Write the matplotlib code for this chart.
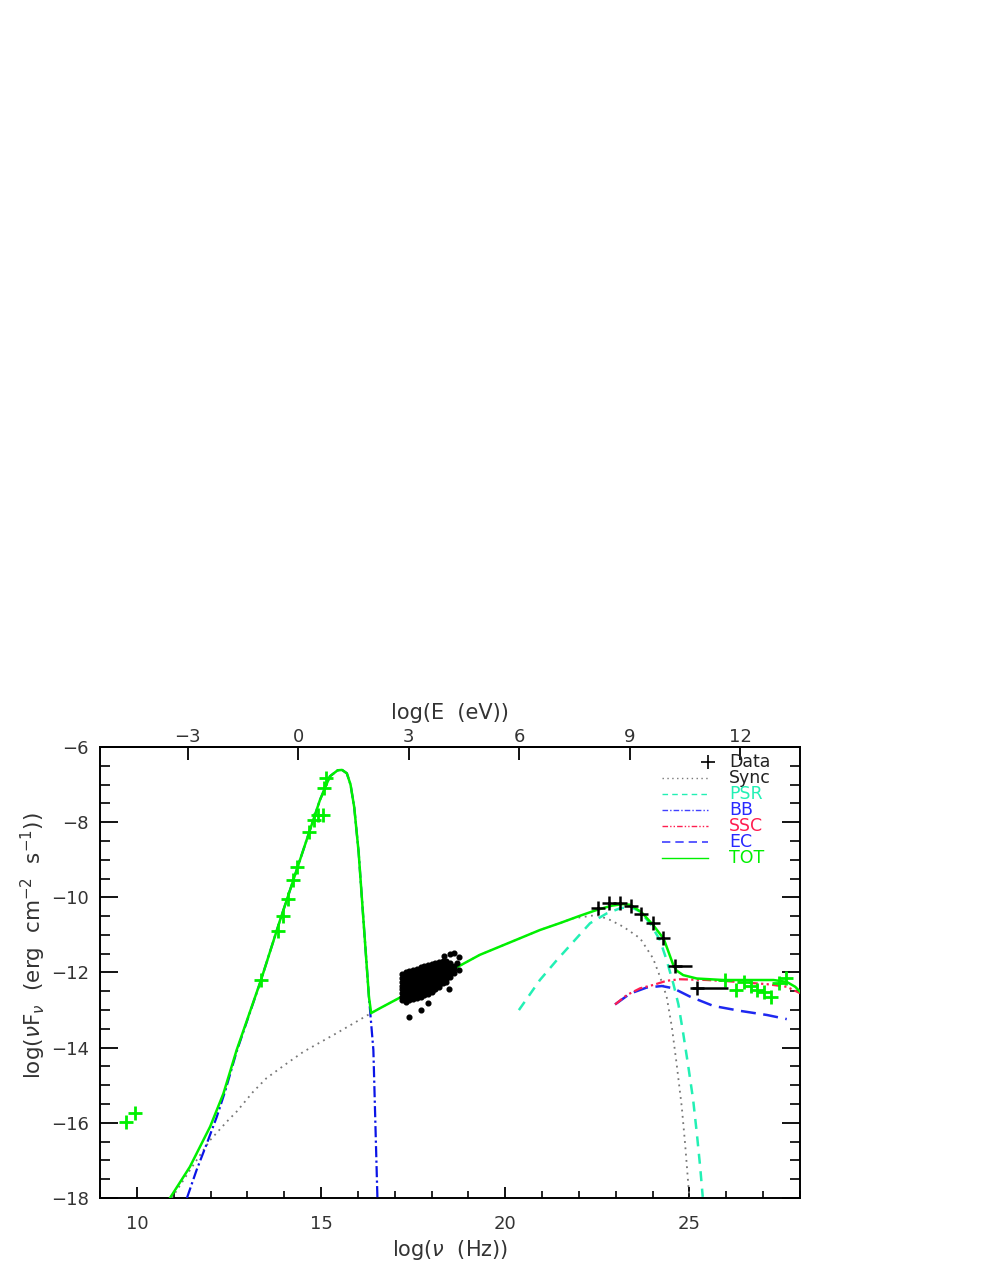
import matplotlib
matplotlib.use("Agg")
import matplotlib.pyplot as plt
from matplotlib.lines import Line2D
import numpy as np

# ---------------- data ----------------
# optical / IR / radio points (green crosses)
opt_x = [9.71, 9.95, 13.37, 13.82, 13.97, 14.10, 14.24, 14.35, 14.67, 14.80, 14.93, 15.05, 15.08, 15.13]
opt_y = [-15.98, -15.74, -12.20, -10.90, -10.50, -10.05, -9.55, -9.20, -8.25, -7.95, -7.80, -7.80, -7.10, -6.82]

# gamma-ray points (black crosses)
gam_x = [22.51, 22.81, 23.12, 23.41, 23.69, 24.00, 24.29, 24.62, 25.20]
gam_y = [-10.29, -10.16, -10.16, -10.23, -10.45, -10.69, -11.09, -11.83, -12.41]
gam_xlo = [0.0, 0.0, 0.0, 0.0, 0.0, 0.0, 0.0, 0.10, 0.14]
gam_xhi = [0.0, 0.0, 0.0, 0.0, 0.0, 0.0, 0.0, 0.44, 0.85]

# VHE points (green crosses)
vhe_x = [25.97, 26.26, 26.48, 26.66, 26.84, 27.02, 27.20, 27.44, 27.62]
vhe_y = [-12.20, -12.47, -12.25, -12.36, -12.47, -12.51, -12.66, -12.29, -12.15]

# X-ray cloud (black dots), one list of y values per x column
xray_cols = [17.20, 17.30, 17.40, 17.50, 17.60, 17.70, 17.80, 17.90, 18.00, 18.10, 18.20, 18.30, 18.40, 18.50, 18.60]
xray_vals = [
    [-12.05, -12.15, -12.25, -12.35, -12.45, -12.55, -12.65, -12.72],
    [-12.00, -12.09, -12.19, -12.29, -12.39, -12.49, -12.59, -12.69, -12.78],
    [-11.96, -12.05, -12.15, -12.25, -12.35, -12.45, -12.55, -12.65, -12.74],
    [-11.93, -12.02, -12.12, -12.22, -12.32, -12.42, -12.52, -12.62, -12.70],
    [-11.90, -12.00, -12.10, -12.20, -12.30, -12.40, -12.50, -12.60, -12.67],
    [-11.86, -11.97, -12.07, -12.17, -12.27, -12.37, -12.47, -12.57, -12.64],
    [-11.83, -11.94, -12.04, -12.14, -12.24, -12.34, -12.44, -12.54, -12.61],
    [-11.80, -11.91, -12.01, -12.11, -12.21, -12.31, -12.41, -12.51, -12.57],
    [-11.77, -11.88, -11.98, -12.08, -12.18, -12.28, -12.38, -12.48, -12.53],
    [-11.74, -11.85, -11.95, -12.05, -12.15, -12.25, -12.35, -12.44],
    [-11.72, -11.82, -11.92, -12.02, -12.12, -12.22, -12.32, -12.39],
    [-11.70, -11.80, -11.90, -12.00, -12.10, -12.20, -12.29],
    [-11.69, -11.78, -11.88, -11.98, -12.08, -12.18, -12.24],
    [-11.75, -11.84, -11.94, -12.04, -12.13],
    [-11.82, -11.92, -12.02],
]
xray_out_x = [18.50, 18.60, 18.75, 18.75, 18.48, 17.90, 17.70, 17.40, 18.70, 18.35]
xray_out_y = [-11.52, -11.47, -11.60, -11.93, -12.45, -12.82, -13.00, -13.18, -11.75, -11.55]

# model curves
sync_x = [10.95, 11.44, 11.99, 12.44, 12.71, 13.16, 13.52, 14.07, 14.52, 15.43, 16.36, 16.60, 17.50,
          18.50, 19.31, 20.20, 20.94, 21.50, 21.84, 22.48, 22.84, 23.20, 23.66, 24.01, 24.20, 24.38,
          24.52, 24.65, 24.79, 24.88, 24.97, 25.00]
sync_y = [-18.0, -17.26, -16.46, -15.97, -15.70, -15.17, -14.81, -14.42, -14.11, -13.61, -13.08, -12.95, -12.48,
          -11.96, -11.53, -11.17, -10.87, -10.68, -10.56, -10.47, -10.60, -10.78, -11.09, -11.62, -12.11, -12.64,
          -13.44, -14.42, -15.57, -16.54, -17.66, -18.0]

psr_x = [20.37, 20.94, 21.40, 21.85, 22.30, 22.75, 23.12, 23.39, 23.66, 23.93, 24.20, 24.38, 24.56, 24.70,
         24.83, 24.97, 25.10, 25.20, 25.29, 25.36]
psr_y = [-13.0, -12.20, -11.67, -11.18, -10.69, -10.43, -10.29, -10.25, -10.38, -10.69, -11.14, -11.67, -12.29, -12.85,
         -13.62, -14.51, -15.39, -16.28, -17.17, -17.97]

bb_x = [11.36, 11.62, 11.90, 12.17, 12.40, 12.71, 13.37, 13.89, 14.43, 14.97, 15.24, 15.45, 15.57, 15.70,
        15.80, 15.90, 16.02, 16.15, 16.30, 16.42, 16.53]
bb_y = [-18.0, -17.26, -16.55, -15.84, -15.15, -14.10, -12.20, -10.60, -9.00, -7.41, -6.78, -6.62, -6.61, -6.70,
        -7.00, -7.60, -8.80, -10.60, -12.65, -14.06, -18.0]

ssc_x = [22.98, 23.30, 23.66, 24.02, 24.38, 24.74, 25.47, 26.01, 26.55, 27.10, 27.64, 28.00]
ssc_y = [-12.85, -12.60, -12.42, -12.33, -12.22, -12.18, -12.20, -12.23, -12.27, -12.31, -12.38, -12.55]

ec_x = [22.98, 23.39, 23.84, 24.25, 24.56, 25.01, 25.65, 26.37, 27.10, 27.64]
ec_y = [-12.85, -12.56, -12.40, -12.36, -12.42, -12.64, -12.89, -13.02, -13.13, -13.24]

tot_x = [10.90, 11.44, 11.99, 12.35, 12.71, 13.37, 13.89, 14.43, 14.97, 15.24, 15.45, 15.57, 15.70, 15.80,
         15.90, 16.02, 16.15, 16.30, 16.36, 16.60, 17.50, 18.50, 19.31, 20.20, 20.94, 21.50, 22.00, 22.50,
         22.90, 23.20, 23.40, 23.70, 24.00, 24.30, 24.56, 24.65, 24.83, 25.20, 25.92, 26.55, 27.28, 27.64,
         27.87, 28.00]
tot_y = [-18.0, -17.17, -16.10, -15.22, -14.06, -12.20, -10.60, -9.00, -7.41, -6.78, -6.62, -6.61, -6.70, -7.00,
         -7.60, -8.80, -10.60, -12.65, -13.08, -12.95, -12.48, -11.96, -11.53, -11.17, -10.87, -10.68, -10.50, -10.33,
         -10.22, -10.18, -10.20, -10.40, -10.72, -11.10, -11.80, -11.95, -12.07, -12.16, -12.20, -12.20, -12.20, -12.25,
         -12.38, -12.51]

legend_labels = ["Data", "Sync", "PSR", "BB", "SSC", "EC", "TOT"]

# ---------------- styling ----------------
C_GREEN = "#00F000"
C_PSR = "#22F0B4"
C_BB = "#0A14E6"
C_SSC = "#FF1E50"
C_EC = "#1E28F0"
C_SYNC = "#777777"
TXT = "#333333"

plt.rcParams["font.family"] = ["DejaVu Sans"]
plt.rcParams["mathtext.fontset"] = "dejavusans"

fig = plt.figure(figsize=(9.83, 12.72), dpi=100)
ax = fig.add_axes([100 / 983, 1 - 1198 / 1272, 700 / 983, 451 / 1272])

# curves
ax.plot(sync_x, sync_y, color=C_SYNC, lw=1.3, ls=(0, (1, 2.5)), zorder=3)
ax.plot(psr_x, psr_y, color=C_PSR, lw=1.8, ls=(0, (4, 3)), zorder=3)
ax.plot(bb_x, bb_y, color=C_BB, lw=1.6, ls=(0, (5, 1.5, 1, 1.5)), zorder=3)
ax.plot(ec_x, ec_y, color=C_EC, lw=1.8, ls=(0, (6, 3)), zorder=3)
ax.plot(ssc_x, ssc_y, color=C_SSC, lw=1.6, ls=(0, (4, 1.5, 1, 1.5, 1, 1.5)), zorder=3)
ax.plot(tot_x, tot_y, color=C_GREEN, lw=1.8, zorder=4)

# X-ray cloud
cx, cy = [], []
for xv, ys in zip(xray_cols, xray_vals):
    for yv in ys:
        cx.append(xv)
        cy.append(yv)
cx += xray_out_x
cy += xray_out_y
ax.plot(cx, cy, ls="none", marker="o", ms=3.4, color="black", mec="black", zorder=5)

# data crosses
ax.plot(opt_x, opt_y, ls="none", marker="+", ms=10, mew=2.0, color=C_GREEN, zorder=6)
ax.plot(vhe_x, vhe_y, ls="none", marker="+", ms=10, mew=2.0, color=C_GREEN, zorder=6)
ax.errorbar(gam_x, gam_y, xerr=[gam_xlo, gam_xhi], ls="none", marker="+", ms=10, mew=1.8,
            color="black", elinewidth=1.8, capsize=0, zorder=6)

# axes
ax.set_xlim(9, 28)
ax.set_ylim(-18, -6)
for s in ax.spines.values():
    s.set_linewidth(1.4)
ax.set_xticks([10, 15, 20, 25])
ax.set_xticks(np.arange(9, 29, 1), minor=True)
ax.set_yticks(np.arange(-18, -5, 2))
ax.set_yticks(np.arange(-18, -5.9, 0.5), minor=True)
ax.set_yticklabels(["\u2212" + str(abs(v)) for v in range(-18, -5, 2)])
ax.tick_params(axis="both", which="both", direction="in", top=False, right=True, colors="black",
               labelcolor=TXT, labelsize=13)
ax.tick_params(axis="x", which="major", length=8, width=1.3, pad=12)
ax.tick_params(axis="x", which="minor", length=5, width=1.2)
ax.tick_params(axis="y", which="major", length=13, width=1.3, pad=8)
ax.tick_params(axis="y", which="minor", length=7, width=1.2)

ax.set_xlabel(r"log($\nu$  (Hz))", fontsize=15, color=TXT, labelpad=4)
ax.set_ylabel(r"log($\nu$F$_\nu$  (erg  cm$^{-2}$  s$^{-1}$))", fontsize=15.5, color=TXT)
ax.yaxis.set_label_coords(-0.074, 0.56)

H_EV = 14.383
sec = ax.secondary_xaxis("top", functions=(lambda x: x - H_EV, lambda e: e + H_EV))
sec.set_xticks([-3, 0, 3, 6, 9, 12])
sec.set_xticklabels(["\u22123", "0", "3", "6", "9", "12"])
sec.tick_params(axis="x", which="major", direction="in", length=9, width=1.3, labelsize=13,
                labelcolor=TXT, pad=1)
sec.tick_params(axis="x", which="minor", length=0)
sec.set_xlabel("log(E  (eV))", fontsize=15, color=TXT, labelpad=6)
sec.spines["top"].set_linewidth(1.4)

# legend (drawn manually in axes coordinates)
tr = ax.transAxes
def ax_x(px):
    return (px - 100) / 700
def ax_y(py):
    return (1198 - py) / 451
rows_py = [762, 778, 794, 810, 826, 842, 858]
handles = [
    dict(marker="+", ls="none", color="black", ms=10, mew=1.2),
    dict(color=C_SYNC, lw=1.0, ls=(0, (1, 2.5))),
    dict(color=C_PSR, lw=1.0, ls=(0, (4, 3))),
    dict(color="#4040FF", lw=1.0, ls=(0, (4, 1.5, 1, 1.5))),
    dict(color=C_SSC, lw=1.0, ls=(0, (4, 1.5, 1, 1.5, 1, 1.5))),
    dict(color="#4040FF", lw=1.2, ls=(0, (5, 3))),
    dict(color=C_GREEN, lw=1.0, ls="-"),
]
text_colors = ["#222222", "#222222", C_PSR, "#2828FF", C_SSC, "#2828FF", C_GREEN]
for i, (lab, hd, tc) in enumerate(zip(legend_labels, handles, text_colors)):
    yy = ax_y(rows_py[i])
    if i == 0:
        ax.add_line(Line2D([ax_x(708)], [yy], transform=tr, **hd))
    else:
        ax.add_line(Line2D([ax_x(662), ax_x(708)], [yy, yy], transform=tr, **hd))
    ax.text(ax_x(729), yy, lab, transform=tr, color=tc, fontsize=12.5, va="center", ha="left")

fig.savefig("out.png", dpi=100)
